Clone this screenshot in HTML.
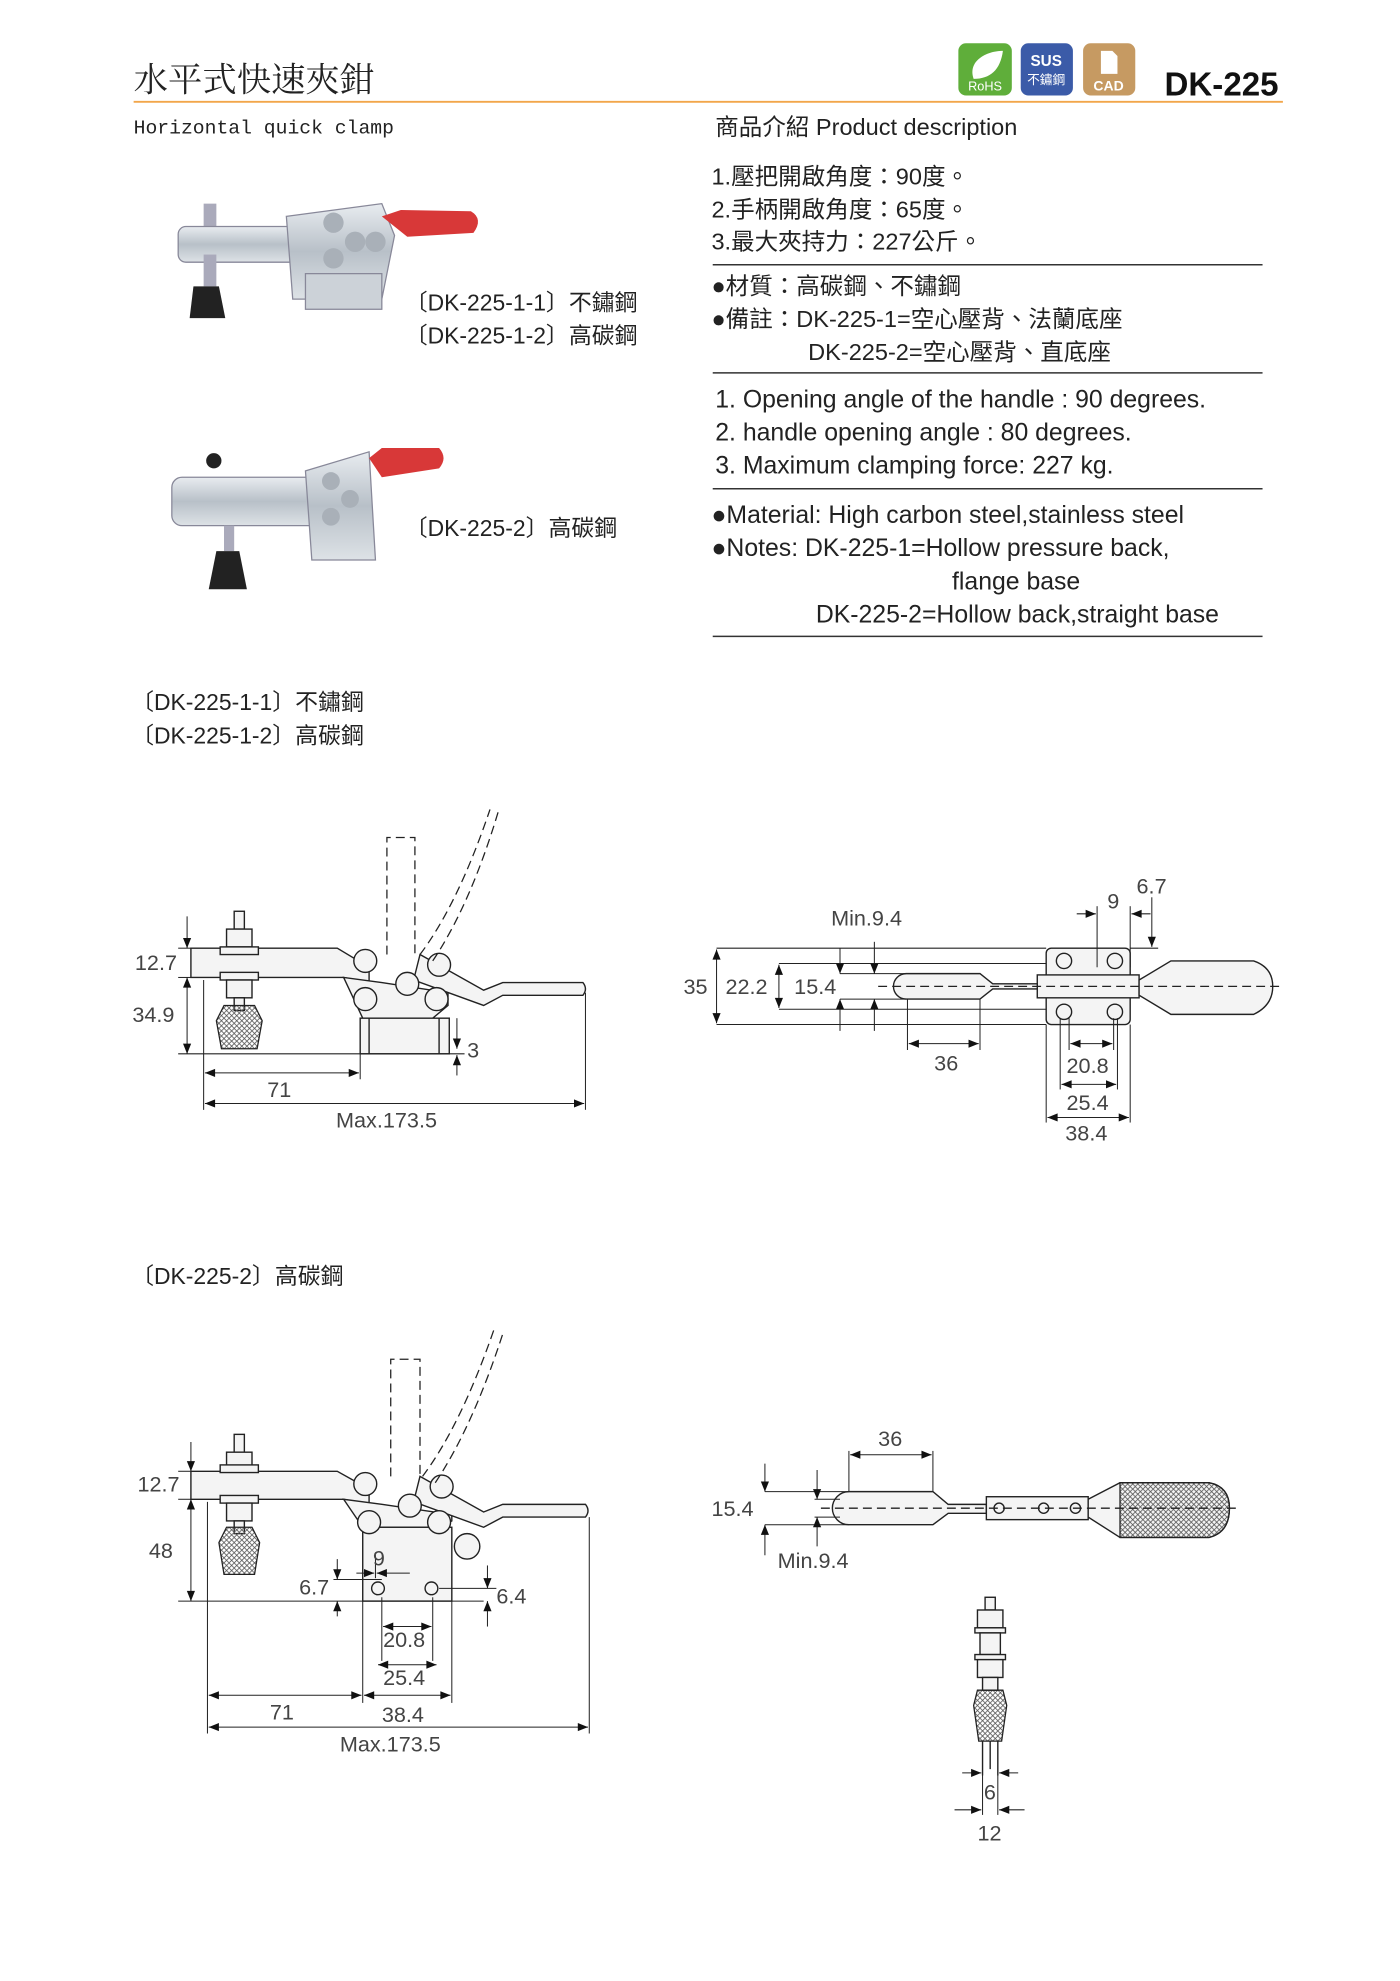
<!DOCTYPE html>
<html><head><meta charset="utf-8"><style>
html,body{margin:0;padding:0;background:#fff}
svg{display:block}
text{font-family:"Liberation Sans","Noto Sans CJK TC",sans-serif;fill:#222}
.d{font-size:17px;fill:#444}
.l{stroke:#222;stroke-width:1.1;fill:none}
.f{stroke:#222;stroke-width:1.1;fill:#f4f4f4}
.ds{stroke:#222;stroke-width:1;fill:none;stroke-dasharray:7 4}
.t{stroke:#222;stroke-width:0.8;fill:none}
</style></head><body>
<svg width="1400" height="1981" viewBox="0 0 1100 1556.5" xmlns="http://www.w3.org/2000/svg">
<defs>
<marker id="a" viewBox="0 0 10 10" refX="10" refY="5" markerUnits="userSpaceOnUse" markerWidth="12" markerHeight="8" orient="auto-start-reverse"><path d="M0,1 L10,5 L0,9z" fill="#111"/></marker>
<pattern id="h" width="4" height="4" patternUnits="userSpaceOnUse"><path d="M0,0L4,4M4,0L0,4" stroke="#555" stroke-width="0.6"/></pattern>
<linearGradient id="m" x1="0" y1="0" x2="0" y2="1"><stop offset="0" stop-color="#e8ecf0"/><stop offset=".5" stop-color="#b8c0c8"/><stop offset="1" stop-color="#dde2e6"/></linearGradient>
</defs>

<!-- header -->
<text x="105" y="72" style="font-size:27px;font-family:'Noto Serif CJK SC','Noto Sans CJK TC',serif">水平式快速夾鉗</text>
<line x1="105" y1="80" x2="1008" y2="80" stroke="#f2a64a" stroke-width="1.5"/>
<rect x="753" y="34" width="42" height="41" rx="6" fill="#5fae3a"/>
<path d="M765,62 C760,48 775,40 788,40 C786,55 778,62 765,62z" fill="#fff"/>
<text x="774" y="71" text-anchor="middle" style="font-size:10px;fill:#fff">RoHS</text>
<rect x="802" y="34" width="41" height="41" rx="6" fill="#3b5ba8"/>
<text x="822" y="52" text-anchor="middle" style="font-size:12px;font-weight:bold;fill:#fff">SUS</text>
<text x="822" y="66" text-anchor="middle" style="font-size:10px;fill:#fff">不鏽鋼</text>
<rect x="851" y="34" width="41" height="41" rx="6" fill="#c69a62"/>
<path d="M865,40h9l4,4v14h-13z" fill="#fff"/>
<text x="871" y="71" text-anchor="middle" style="font-size:11px;font-weight:bold;fill:#fff">CAD</text>
<text x="915" y="75" style="font-size:26px;font-weight:bold;fill:#111">DK-225</text>

<text x="105" y="105" style="font-size:15.5px;font-family:'Liberation Mono',monospace">Horizontal quick clamp</text>
<text x="562" y="106" style="font-size:18.5px">商品介紹 Product description</text>
<g style="font-size:18.5px">
<text x="559" y="145">1.壓把開啟角度：90度。</text>
<text x="559" y="171">2.手柄開啟角度：65度。</text>
<text x="559" y="196">3.最大夾持力：227公斤。</text>
<text x="559" y="231">●材質：高碳鋼、不鏽鋼</text>
<text x="559" y="257">●備註：DK-225-1=空心壓背、法蘭底座</text>
<text x="635" y="283">DK-225-2=空心壓背、直底座</text>
</g>
<g style="font-size:19.5px">
<text x="562" y="320">1. Opening angle of the handle : 90 degrees.</text>
<text x="562" y="346">2. handle opening angle : 80 degrees.</text>
<text x="562" y="372">3. Maximum clamping force: 227 kg.</text>
<text x="559" y="411">●Material: High carbon steel,stainless steel</text>
<text x="559" y="437">●Notes: DK-225-1=Hollow pressure back,</text>
<text x="748" y="463">flange base</text>
<text x="641" y="489">DK-225-2=Hollow back,straight base</text>
</g>
<g stroke="#333" stroke-width="1.2">
<line x1="560" y1="208" x2="992" y2="208"/><line x1="560" y1="293" x2="992" y2="293"/>
<line x1="560" y1="384" x2="992" y2="384"/><line x1="560" y1="500" x2="992" y2="500"/></g>

<!-- photo 1 -->
<g>
<rect x="160" y="160" width="10" height="25" fill="#aab"/>
<rect x="140" y="178" width="120" height="28" rx="6" fill="url(#m)" stroke="#889"/>
<rect x="160" y="200" width="10" height="25" fill="#aab"/>
<path d="M152,225h20l5,25h-28z" fill="#222"/>
<path d="M225,170 L300,160 L310,185 L300,235 L230,235z" fill="url(#m)" stroke="#889"/>
<rect x="240" y="215" width="60" height="28" fill="#ccd2d8" stroke="#889"/>
<circle cx="262" cy="175" r="8" fill="#a9b0b8"/><circle cx="279" cy="190" r="8" fill="#a9b0b8"/><circle cx="295" cy="190" r="8" fill="#a9b0b8"/><circle cx="262" cy="203" r="8" fill="#a9b0b8"/>
<path d="M300,170 L315,165 L370,166 Q380,172 372,183 L320,186z" fill="#d83838"/>
</g>
<text x="318" y="244" style="font-size:18px">〔DK-225-1-1〕不鏽鋼</text>
<text x="318" y="270" style="font-size:18px">〔DK-225-1-2〕高碳鋼</text>
<!-- photo 2 -->
<g>
<circle cx="168" cy="362" r="6" fill="#222"/>
<rect x="135" y="375" width="120" height="38" rx="8" fill="url(#m)" stroke="#889"/>
<path d="M240,370 L290,355 L295,440 L245,440z" fill="url(#m)" stroke="#889"/>
<circle cx="260" cy="378" r="7" fill="#a9b0b8"/><circle cx="275" cy="392" r="7" fill="#a9b0b8"/><circle cx="260" cy="406" r="7" fill="#a9b0b8"/>
<path d="M290,360 L300,352 L345,352 Q352,360 345,368 L300,375z" fill="#d83838"/>
<rect x="176" y="413" width="8" height="20" fill="#aab"/>
<path d="M170,433h18l6,30h-30z" fill="#222"/>
</g>
<text x="318" y="421" style="font-size:18px">〔DK-225-2〕高碳鋼</text>

<text x="103" y="558" style="font-size:18px">〔DK-225-1-1〕不鏽鋼</text>
<text x="103" y="584" style="font-size:18px">〔DK-225-1-2〕高碳鋼</text>
<text x="103" y="1009" style="font-size:18px">〔DK-225-2〕高碳鋼</text>

<!-- drawing 1 side view -->
<g>
<path class="f" d="M150,745 H265 L290,760 V772 L270,768 H150z"/>
<path class="f" d="M270,768 L285,800 H340 L352,790 V780 L300,772z"/>
<rect class="f" x="283" y="800" width="70" height="28"/>
<line class="l" x1="290" y1="800" x2="290" y2="828"/><line class="l" x1="345" y1="800" x2="345" y2="828"/>
<rect class="f" x="184" y="716" width="8" height="14"/>
<rect class="f" x="178" y="730" width="20" height="14"/>
<rect class="f" x="173" y="744" width="30" height="6"/>
<rect class="f" x="173" y="764" width="30" height="6"/>
<rect class="f" x="178" y="770" width="20" height="14"/>
<rect class="f" x="184" y="784" width="8" height="10"/>
<path d="M176,790 h24 l6,12 l-4,22 h-28 l-4,-22z" fill="url(#h)" stroke="#222" stroke-width="1"/>
<path class="f" d="M330,750 L380,778 L395,772 H458 Q462,777 458,782 H395 L380,790 L325,770z"/>
<circle class="f" cx="287" cy="755" r="9"/><circle class="f" cx="320" cy="773" r="9"/><circle class="f" cx="345" cy="758" r="9"/><circle class="f" cx="287" cy="785" r="9"/><circle class="f" cx="343" cy="785" r="9"/>
<path class="ds" d="M304,750 V658 H326 V750"/>
<path class="ds" d="M330,750 Q360,710 385,636 M340,755 Q370,710 392,636"/>
<g class="t">
<line x1="140" y1="745" x2="150" y2="745"/><line x1="140" y1="768" x2="150" y2="768"/>
<line x1="140" y1="828" x2="365" y2="828"/>
<line x1="160" y1="770" x2="160" y2="872"/><line x1="460" y1="780" x2="460" y2="872"/><line x1="283" y1="828" x2="283" y2="848"/>
<line x1="147" y1="720" x2="147" y2="745" marker-end="url(#a)"/>
<line x1="147" y1="768" x2="147" y2="828" marker-start="url(#a)" marker-end="url(#a)"/>
<line x1="161" y1="843" x2="282" y2="843" marker-start="url(#a)" marker-end="url(#a)"/>
<line x1="161" y1="867" x2="459" y2="867" marker-start="url(#a)" marker-end="url(#a)"/>
<line x1="359" y1="800" x2="359" y2="824" marker-end="url(#a)"/><line x1="359" y1="845" x2="359" y2="829" marker-end="url(#a)"/>
</g>
<text class="d" x="106" y="762">12.7</text><text class="d" x="104" y="803">34.9</text>
<text class="d" x="210" y="862">71</text><text class="d" x="264" y="886">Max.173.5</text><text class="d" x="367" y="831">3</text>
</g>

<!-- drawing 2 top view -->
<g>
<rect class="f" x="822" y="745" width="66" height="60" rx="4"/>
<circle class="f" cx="836" cy="755" r="6"/><circle class="f" cx="876" cy="755" r="6"/><circle class="f" cx="836" cy="795" r="6"/><circle class="f" cx="876" cy="795" r="6"/>
<rect class="f" x="815" y="766" width="80" height="18"/>
<path class="f" d="M712,765 H770 L780,773 H815 V777 H780 L770,785 H712 A10,10 0 0 1 712,765z"/>
<path class="f" d="M895,770 L920,755 H985 Q1000,760 1000,775 Q1000,790 985,797 H920 L895,782z"/>
<g class="t">
<line x1="563" y1="745" x2="822" y2="745"/><line x1="563" y1="805" x2="822" y2="805"/>
<line x1="612" y1="757" x2="822" y2="757"/><line x1="612" y1="793" x2="822" y2="793"/>
<line x1="660" y1="765" x2="712" y2="765"/><line x1="660" y1="785" x2="712" y2="785"/>
<line x1="563" y1="746" x2="563" y2="804" marker-start="url(#a)" marker-end="url(#a)"/>
<line x1="612" y1="758" x2="612" y2="792" marker-start="url(#a)" marker-end="url(#a)"/>
<line x1="660" y1="745" x2="660" y2="765" marker-end="url(#a)"/><line x1="660" y1="810" x2="660" y2="785" marker-end="url(#a)"/>
<line x1="687" y1="740" x2="687" y2="765" marker-end="url(#a)"/><line x1="687" y1="810" x2="687" y2="785" marker-end="url(#a)"/>
<line x1="713" y1="785" x2="713" y2="825"/><line x1="770" y1="785" x2="770" y2="825"/>
<line x1="714" y1="820" x2="769" y2="820" marker-start="url(#a)" marker-end="url(#a)"/>
<line x1="822" y1="805" x2="822" y2="882"/><line x1="888" y1="805" x2="888" y2="882"/>
<line x1="833" y1="800" x2="833" y2="856"/><line x1="878" y1="800" x2="878" y2="856"/>
<line x1="840" y1="800" x2="840" y2="825"/><line x1="875" y1="800" x2="875" y2="825"/>
<line x1="841" y1="820" x2="874" y2="820" marker-start="url(#a)" marker-end="url(#a)"/>
<line x1="834" y1="852" x2="877" y2="852" marker-start="url(#a)" marker-end="url(#a)"/>
<line x1="823" y1="878" x2="887" y2="878" marker-start="url(#a)" marker-end="url(#a)"/>
<line x1="862" y1="712" x2="862" y2="760"/><line x1="888" y1="712" x2="888" y2="760"/>
<line x1="846" y1="718" x2="861" y2="718" marker-end="url(#a)"/><line x1="904" y1="718" x2="889" y2="718" marker-end="url(#a)"/>
<line x1="888" y1="745" x2="910" y2="745"/>
<line x1="905" y1="705" x2="905" y2="744" marker-end="url(#a)"/>
</g>
<line class="ds" x1="690" y1="775" x2="1005" y2="775"/>
<text class="d" x="537" y="781">35</text><text class="d" x="570" y="781">22.2</text><text class="d" x="624" y="781">15.4</text>
<text class="d" x="653" y="727">Min.9.4</text><text class="d" x="734" y="841">36</text>
<text class="d" x="838" y="843">20.8</text><text class="d" x="838" y="872">25.4</text><text class="d" x="837" y="896">38.4</text>
<text class="d" x="870" y="714">9</text><text class="d" x="893" y="702">6.7</text>
</g>

<!-- drawing 3 side view DK-225-2 -->
<g>
<path class="f" d="M150,1156 H265 L290,1170 V1182 L270,1178 H150z"/>
<path class="f" d="M270,1178 L285,1200 H345 L355,1195 V1190 L300,1182z"/>
<rect class="f" x="285" y="1200" width="70" height="58"/>
<circle class="f" cx="297" cy="1248" r="5"/><circle class="f" cx="339" cy="1248" r="5"/>
<circle class="f" cx="367" cy="1215" r="10"/>
<rect class="f" x="184" y="1127" width="8" height="14"/>
<rect class="f" x="178" y="1141" width="20" height="14"/>
<rect class="f" x="173" y="1151" width="30" height="6"/>
<rect class="f" x="173" y="1175" width="30" height="6"/>
<rect class="f" x="178" y="1181" width="20" height="14"/>
<rect class="f" x="184" y="1195" width="8" height="10"/>
<path d="M178,1200 h20 l6,12 l-4,25 h-24 l-4,-25z" fill="url(#h)" stroke="#222" stroke-width="1"/>
<path class="f" d="M330,1160 L380,1188 L395,1182 H460 Q464,1187 460,1192 H395 L380,1200 L325,1180z"/>
<circle class="f" cx="287" cy="1166" r="9"/><circle class="f" cx="322" cy="1183" r="9"/><circle class="f" cx="347" cy="1168" r="9"/><circle class="f" cx="290" cy="1196" r="9"/><circle class="f" cx="345" cy="1196" r="9"/>
<path class="ds" d="M307,1160 V1068 H330 V1160"/>
<path class="ds" d="M332,1160 Q362,1120 388,1045 M342,1165 Q372,1120 396,1045"/>
<g class="t">
<line x1="140" y1="1156" x2="150" y2="1156"/><line x1="140" y1="1178" x2="150" y2="1178"/>
<line x1="140" y1="1258" x2="380" y2="1258"/>
<line x1="163" y1="1180" x2="163" y2="1362"/><line x1="463" y1="1192" x2="463" y2="1362"/>
<line x1="285" y1="1258" x2="285" y2="1338"/><line x1="355" y1="1258" x2="355" y2="1338"/>
<line x1="150" y1="1133" x2="150" y2="1156" marker-end="url(#a)"/>
<line x1="150" y1="1178" x2="150" y2="1258" marker-start="url(#a)" marker-end="url(#a)"/>
<line x1="295" y1="1222" x2="295" y2="1240"/><line x1="300" y1="1255" x2="300" y2="1305"/><line x1="340" y1="1255" x2="340" y2="1305"/>
<line x1="280" y1="1236" x2="294" y2="1236" marker-end="url(#a)"/><line x1="322" y1="1236" x2="296" y2="1236" marker-end="url(#a)"/>
<line x1="262" y1="1241" x2="300" y2="1241"/>
<line x1="265" y1="1225" x2="265" y2="1241" marker-end="url(#a)"/><line x1="265" y1="1270" x2="265" y2="1258" marker-end="url(#a)"/>
<line x1="345" y1="1248" x2="390" y2="1248"/>
<line x1="383" y1="1230" x2="383" y2="1248" marker-end="url(#a)"/><line x1="383" y1="1278" x2="383" y2="1258" marker-end="url(#a)"/>
<line x1="301" y1="1278" x2="339" y2="1278" marker-start="url(#a)" marker-end="url(#a)"/>
<line x1="297" y1="1308" x2="343" y2="1308" marker-start="url(#a)" marker-end="url(#a)"/>
<line x1="164" y1="1332" x2="284" y2="1332" marker-start="url(#a)" marker-end="url(#a)"/>
<line x1="286" y1="1332" x2="354" y2="1332" marker-start="url(#a)" marker-end="url(#a)"/>
<line x1="164" y1="1357" x2="462" y2="1357" marker-start="url(#a)" marker-end="url(#a)"/>
</g>
<text class="d" x="108" y="1172">12.7</text><text class="d" x="117" y="1224">48</text>
<text class="d" x="293" y="1230">9</text><text class="d" x="235" y="1253">6.7</text><text class="d" x="390" y="1260">6.4</text>
<text class="d" x="301" y="1294">20.8</text><text class="d" x="301" y="1324">25.4</text>
<text class="d" x="212" y="1351">71</text><text class="d" x="300" y="1353">38.4</text><text class="d" x="267" y="1376">Max.173.5</text>
</g>

<!-- drawing 4 top view -->
<g>
<path class="f" d="M667,1172 H733 L745,1182 H775 V1189 H745 L733,1198 H667 A13,13 0 0 1 667,1172z"/>
<rect class="f" x="775" y="1176" width="80" height="18"/>
<circle class="f" cx="785" cy="1185" r="4"/><circle class="f" cx="820" cy="1185" r="4"/><circle class="f" cx="845" cy="1185" r="4"/>
<path class="f" d="M855,1178 L880,1165 H950 Q966,1168 966,1185 Q966,1204 950,1208 H880 L855,1192z"/>
<path d="M880,1165 H950 Q966,1168 966,1185 Q966,1204 950,1208 H880z" fill="url(#h)" stroke="#222"/>
<line class="ds" x1="645" y1="1185" x2="972" y2="1185"/>
<g class="t">
<line x1="667" y1="1140" x2="667" y2="1172"/><line x1="733" y1="1140" x2="733" y2="1172"/>
<line x1="668" y1="1143" x2="732" y2="1143" marker-start="url(#a)" marker-end="url(#a)"/>
<line x1="601" y1="1172" x2="667" y2="1172"/><line x1="601" y1="1198" x2="667" y2="1198"/>
<line x1="601" y1="1150" x2="601" y2="1172" marker-end="url(#a)"/><line x1="601" y1="1222" x2="601" y2="1198" marker-end="url(#a)"/>
<line x1="642" y1="1155" x2="642" y2="1178" marker-end="url(#a)"/><line x1="642" y1="1215" x2="642" y2="1192" marker-end="url(#a)"/>
<line x1="640" y1="1178" x2="660" y2="1178"/><line x1="640" y1="1192" x2="660" y2="1192"/>
</g>
<text class="d" x="690" y="1136">36</text><text class="d" x="559" y="1191">15.4</text><text class="d" x="611" y="1232">Min.9.4</text>
</g>

<!-- drawing 5 front view -->
<g>
<rect class="f" x="774" y="1255" width="8" height="10"/>
<rect class="f" x="768" y="1265" width="20" height="14"/>
<rect class="f" x="766" y="1279" width="24" height="4"/>
<rect class="f" x="770" y="1283" width="16" height="17"/>
<rect class="f" x="766" y="1300" width="24" height="4"/>
<rect class="f" x="768" y="1304" width="20" height="14"/>
<rect class="f" x="772" y="1318" width="12" height="10"/>
<path d="M768,1328 h20 l3,12 l-4,28 h-18 l-4,-28z" fill="url(#h)" stroke="#222"/>
<path class="l" d="M772,1368 V1395 M784,1368 V1395 M778,1368 V1390"/>
<g class="t">
<line x1="772" y1="1395" x2="772" y2="1426"/><line x1="784" y1="1395" x2="784" y2="1426"/>
<line x1="756" y1="1393" x2="771" y2="1393" marker-end="url(#a)"/><line x1="800" y1="1393" x2="785" y2="1393" marker-end="url(#a)"/>
<line x1="750" y1="1422" x2="771" y2="1422" marker-end="url(#a)"/><line x1="805" y1="1422" x2="785" y2="1422" marker-end="url(#a)"/>
</g>
<text class="d" x="773" y="1414">6</text><text class="d" x="768" y="1446">12</text>
</g>
</svg>
</body></html>
